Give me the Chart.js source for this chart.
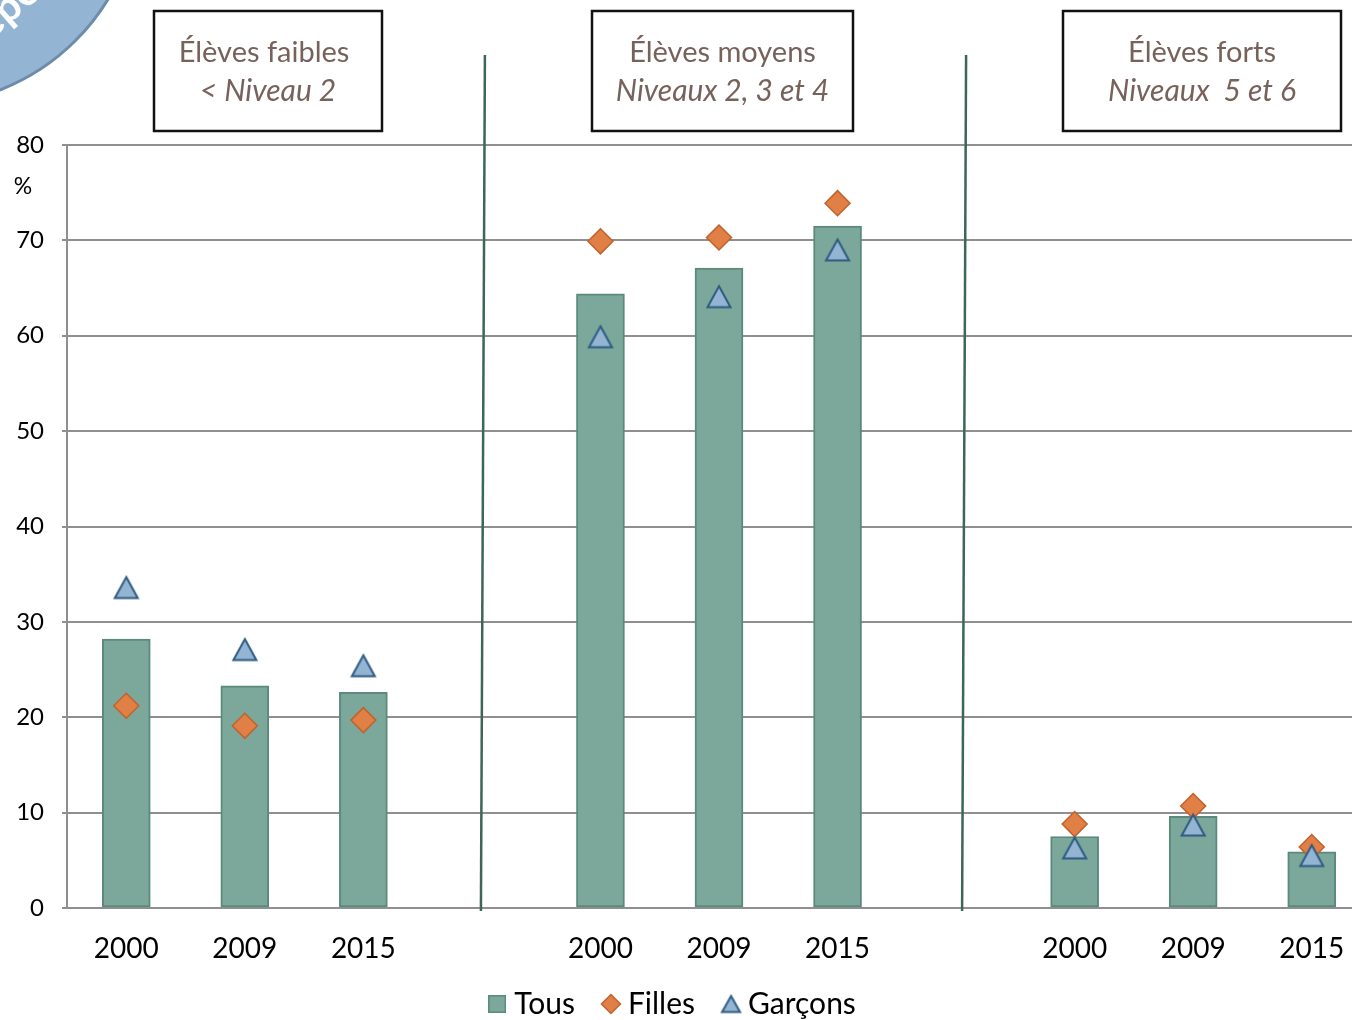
<!DOCTYPE html>
<html lang="fr">
<head>
<meta charset="utf-8">
<title>Élèves faibles, moyens et forts</title>
<script src="https://cdn.jsdelivr.net/npm/chart.js@4.4.1/dist/chart.umd.min.js"></script>
<style>
  html, body { margin: 0; padding: 0; background: #fff; overflow: hidden; }
  #graphique { display: block; }
</style>
</head>
<body>
<canvas id="graphique" width="1371" height="1020"></canvas>
<script>
// Années par groupe (une case vide sépare les groupes)
const annees = ['2000', '2009', '2015', '', '2000', '2009', '2015', '', '2000', '2009', '2015'];
// Pourcentages d'élèves
const tous = [28.2, 23.3, 22.6, null, 64.4, 67.1, 71.5, null, 7.5, 9.6, 5.9];
const filles = [21.2, 19.1, 19.7, null, 69.9, 70.3, 73.9, null, 8.8, 10.7, 6.4];
const garcons = [33.6, 27.1, 25.4, null, 59.9, 64.1, 69.0, null, 6.3, 8.7, 5.5];
// Titres des trois groupes
const groupes = [
    ['Élèves faibles', '< Niveau 2'],
    ['Élèves moyens', 'Niveaux 2, 3 et 4'],
    ['Élèves forts', 'Niveaux  5 et 6']
];
const series = ['Tous', 'Filles', 'Garçons'];

const VERT = '#7ba89b', VERT_BORD = '#5b8a7d';
const ORANGE = '#e07f46', ORANGE_BORD = '#c0622c';
const BLEU = '#93b4d2', BLEU_BORD = '#2f5b82';
const TEXTE_TITRE = '#76625a';

// Petits dessins pour les marqueurs (triangle centré sur sa boîte, comme dans Excel)
function triangle(l, h) {
    const c = document.createElement('canvas');
    c.width = l + 4; c.height = h + 4;
    const g = c.getContext('2d');
    g.beginPath();
    g.moveTo(c.width / 2, 2.5);
    g.lineTo(c.width - 2.5, c.height - 2.5);
    g.lineTo(2.5, c.height - 2.5);
    g.closePath();
    g.fillStyle = BLEU; g.fill();
    g.lineWidth = 2; g.lineJoin = 'miter'; g.strokeStyle = BLEU_BORD; g.stroke();
    return c;
}
function losange(t) {
    const c = document.createElement('canvas');
    c.width = t + 2; c.height = t + 2;
    const g = c.getContext('2d'), m = c.width / 2;
    g.beginPath();
    g.moveTo(m, 1.5); g.lineTo(c.width - 1.5, m); g.lineTo(m, c.height - 1.5); g.lineTo(1.5, m);
    g.closePath();
    g.fillStyle = ORANGE; g.fill();
    g.lineWidth = 1.5; g.strokeStyle = ORANGE_BORD; g.stroke();
    return c;
}
function carre(t) {
    const c = document.createElement('canvas');
    c.width = t; c.height = t;
    const g = c.getContext('2d');
    g.fillStyle = VERT; g.fillRect(0, 0, t, t);
    g.lineWidth = 1.5; g.strokeStyle = VERT_BORD; g.strokeRect(0.75, 0.75, t - 1.5, t - 1.5);
    return c;
}
const marqueTriangle = triangle(24, 22);
const legendeMarques = [carre(18), losange(20), triangle(19, 17)];

// Titres, séparateurs, pastille bleue et "%"
const decor = {
    id: 'decor',
    afterLayout(chart) {
        // légende : remontée dans le cadre et recentrée sous le graphique
        const lg = chart.legend;
        lg.left -= 10; lg.right -= 10;
        lg.top -= 15; lg.bottom -= 15;
    },
    afterDraw(chart) {
        const ctx = chart.ctx, x = chart.scales.x, aire = chart.chartArea;
        ctx.save();

        // pastille bleue dans le coin
        ctx.beginPath();
        ctx.arc(-80, -115, 220, 0, Math.PI * 2);
        ctx.fillStyle = '#93b4d2'; ctx.fill();
        ctx.lineWidth = 3; ctx.strokeStyle = '#6d8cab'; ctx.stroke();
        ctx.save();
        ctx.translate(-80, -115);
        ctx.rotate(-0.72);
        ctx.fillStyle = '#fff';
        ctx.font = 'bold 42px Lato';
        ctx.textAlign = 'center';
        ctx.fillText('Repères', 0, 150);
        ctx.restore();

        // traits verticaux entre les groupes
        ctx.strokeStyle = '#3c6658'; ctx.lineWidth = 2.5;
        [[3, 2], [7, 9]].forEach(([i, d]) => {
            const px = x.getPixelForValue(i) + d;
            ctx.beginPath();
            ctx.moveTo(px + 1, 55);
            ctx.lineTo(px - 3, aire.bottom + 3);
            ctx.stroke();
        });

        // cadres des groupes
        const cadres = [[154, 228], [592, 261], [1063, 278]];
        ctx.textAlign = 'center'; ctx.textBaseline = 'middle';
        groupes.forEach((g, k) => {
            const [gx, gw] = cadres[k];
            ctx.fillStyle = '#fff';
            ctx.fillRect(gx, 11, gw, 120);
            ctx.strokeStyle = '#111'; ctx.lineWidth = 2.5;
            ctx.strokeRect(gx, 11, gw, 120);
            ctx.fillStyle = TEXTE_TITRE;
            ctx.font = '29px Lato';
            ctx.fillText(g[0], gx + gw / 2 - (k === 0 ? 4 : 0), 53);
            ctx.font = 'italic 30px Lato';
            ctx.fillText(g[1], gx + gw / 2, 91);
        });

        // unité sous la graduation du haut
        ctx.fillStyle = '#000';
        ctx.font = '23px Lato';
        ctx.fillText('%', 23, aire.top + 42);
        ctx.restore();
    }
};

const ctx = document.getElementById('graphique').getContext('2d');
const graphique = new Chart(ctx, {
    data: {
        labels: annees,
        datasets: [{
            type: 'bar',
            label: series[0],
            data: tous,
            backgroundColor: VERT,
            borderColor: VERT_BORD,
            borderWidth: 2,
            borderSkipped: false,
            barThickness: 48,
            order: 3
        }, {
            type: 'line',
            label: series[1],
            data: filles,
            showLine: false,
            pointStyle: 'rectRot',
            pointRadius: 12.5,
            pointHoverRadius: 12.5,
            pointBackgroundColor: ORANGE,
            pointBorderColor: ORANGE_BORD,
            pointBorderWidth: 1.5,
            order: 2
        }, {
            type: 'line',
            label: series[2],
            data: garcons,
            showLine: false,
            pointStyle: marqueTriangle,
            pointRadius: 13,
            pointHoverRadius: 13,
            order: 1
        }]
    },
    options: {
        responsive: false,
        animation: false,
        layout: { autoPadding: false, padding: { top: 145, left: 0, right: 0, bottom: -24 } },
        plugins: {
            tooltip: { enabled: false },
            legend: {
                position: 'bottom',
                labels: {
                    usePointStyle: true,
                    boxWidth: 4,
                    boxHeight: 20,
                    padding: 34,
                    color: '#000',
                    font: { family: 'Lato', size: 30 },
                    generateLabels: (chart) => series.map((s, i) => ({
                        text: s,
                        pointStyle: legendeMarques[i],
                        datasetIndex: i,
                        fontColor: '#000',
                        lineWidth: 0
                    }))
                }
            }
        },
        scales: {
            x: {
                grid: { display: false, drawTicks: false },
                border: { display: false },
                ticks: {
                    color: '#000',
                    padding: 24,
                    font: { family: 'Lato', size: 28 }
                },
                afterFit: (s) => { s.height = 62; s.paddingLeft = 0; s.paddingRight = 0; }
            },
            y: {
                min: 0,
                max: 80,
                ticks: {
                    stepSize: 10,
                    padding: 18,
                    color: '#000',
                    font: { family: 'Lato', size: 24 }
                },
                grid: { color: '#8f8f8f', lineWidth: 2, tickLength: 5 },
                border: { color: '#8f8f8f', width: 2 },
                afterFit: (s) => { s.width = 67; }
            }
        }
    },
    plugins: [decor]
});
</script>
</body>
</html>
